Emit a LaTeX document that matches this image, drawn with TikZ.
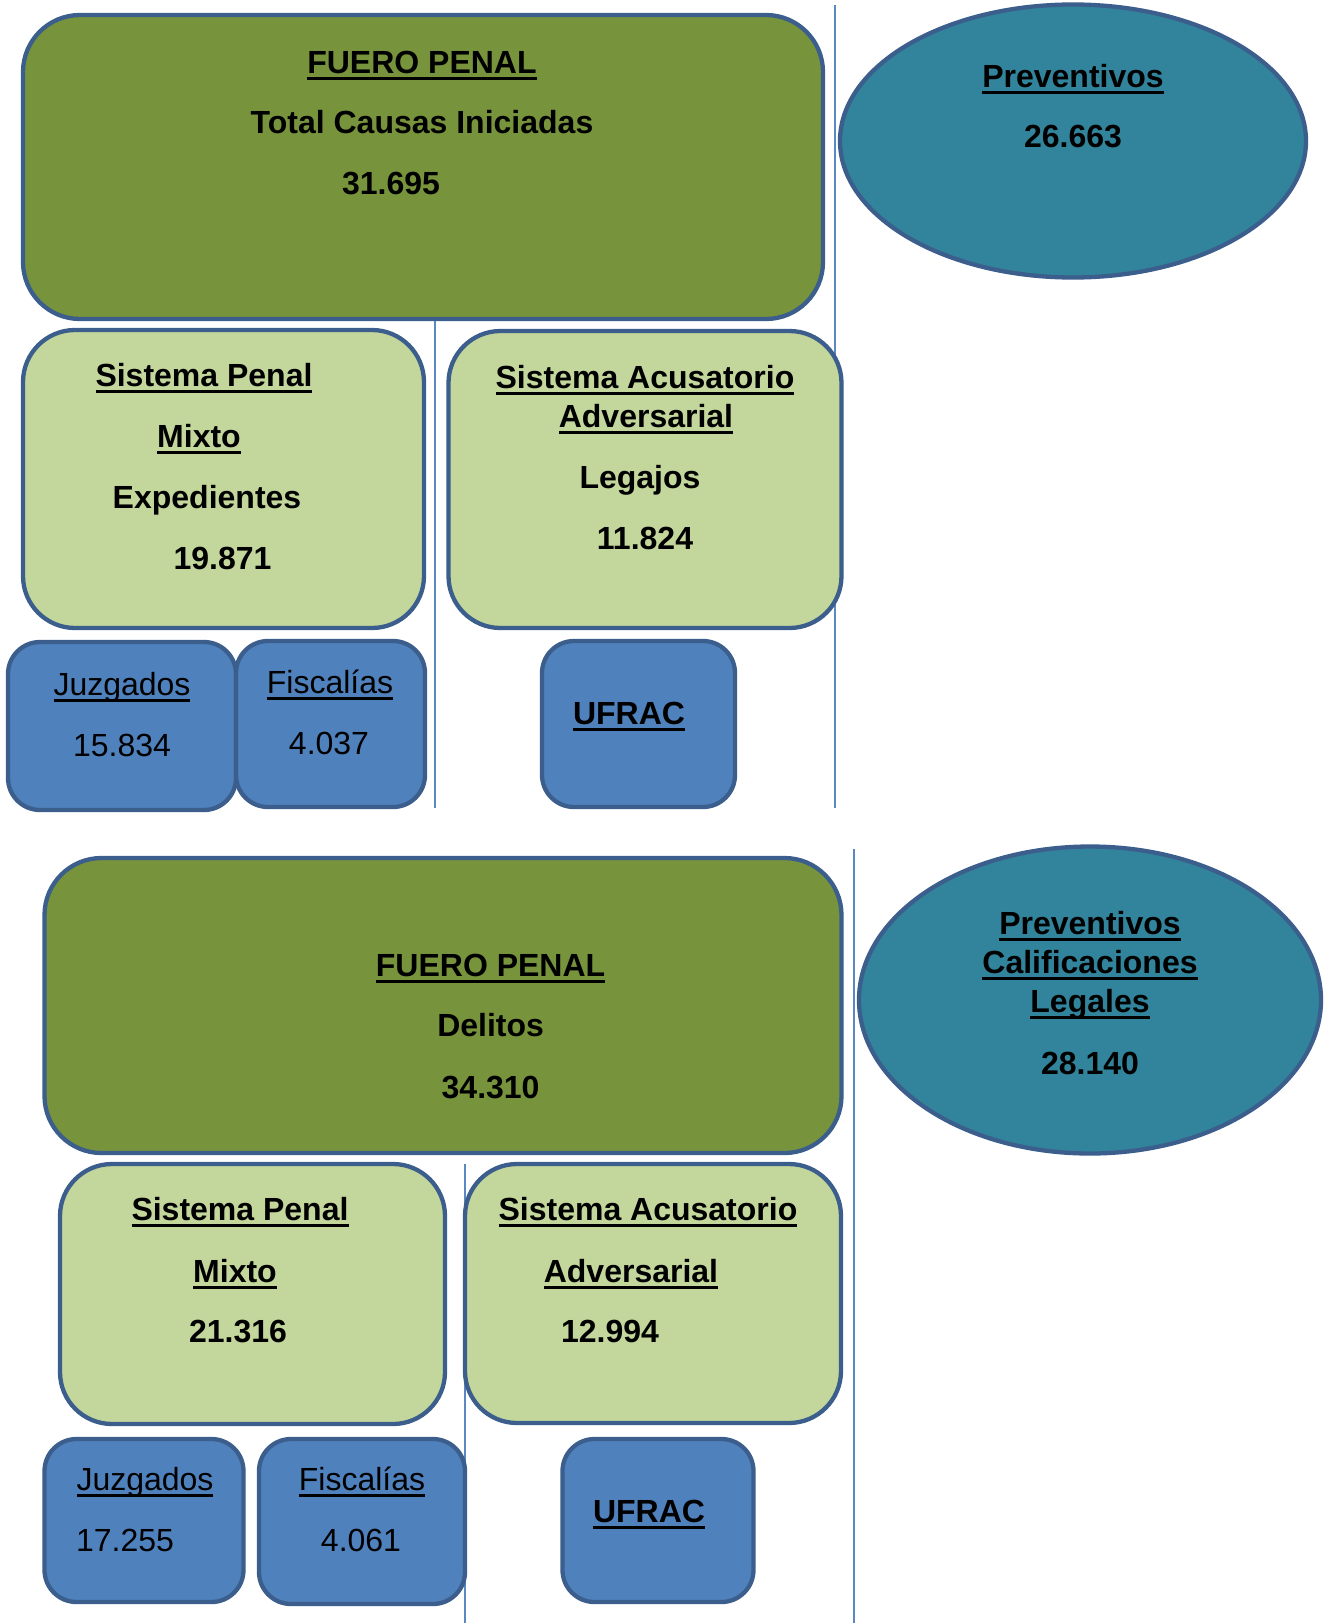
\documentclass[tikz,border=0pt]{standalone}
\usepackage{fontspec}
\setmainfont{Liberation Sans}
\usetikzlibrary{shapes.geometric}
\definecolor{cOlive}{HTML}{77933C}
\definecolor{cLight}{HTML}{C3D69B}
\definecolor{cBlue}{HTML}{4F81BD}
\definecolor{cTeal}{HTML}{31849B}
\definecolor{cEdge}{HTML}{3B5E8C}
\definecolor{cSep}{HTML}{5B87C2}
\newcommand{\ulin}[1]{\setbox0\hbox{#1}\rlap{\rule[-0.21em]{\wd0}{0.1em}}\box0}
\begin{document}
\begin{tikzpicture}[x=1pt,y=-1pt,
  base/.style={draw=cEdge, line width=4.3pt},
  bigbox/.style={base, fill=cOlive, rounded corners=57pt},
  midbox/.style={base, fill=cLight, rounded corners=52pt},
  smallbox/.style={base, fill=cBlue, rounded corners=32pt},
  oval/.style={base, fill=cTeal, ellipse},
  sep/.style={draw=cSep, line width=1.6pt},
  tb/.style={anchor=base, inner sep=0pt, font=\fontsize{32}{38}\selectfont\bfseries},
  tr/.style={anchor=base, inner sep=0pt, font=\fontsize{32}{38}\selectfont}]
\useasboundingbox (0,0) rectangle (1326,1623);

% separator lines
\coordinate (s1t) at (835,5);    \coordinate (s1b) at (835,808);
\coordinate (s2t) at (435,321);  \coordinate (s2b) at (435,808);
\coordinate (s3t) at (854,849);  \coordinate (s3b) at (854,1623);
\coordinate (s4t) at (465,1164); \coordinate (s4b) at (465,1623);
\draw[sep] (s1t) -- (s1b);
\draw[sep] (s2t) -- (s2b);
\draw[sep] (s3t) -- (s3b);
\draw[sep] (s4t) -- (s4b);

% ---------- upper diagram ----------
\node[bigbox, minimum width=800pt, minimum height=304pt] (fp1) at (423,167) {};
\node[tb] (fp1a) at (422,73) {\ulin{FUERO PENAL}};
\node[tb] (fp1b) at (422,133) {Total Causas Iniciadas};
\node[tb] (fp1c) at (391,194) {31.695};

\node[oval, minimum width=466pt, minimum height=273pt] (pv1) at (1073,141) {};
\node[tb] (pv1a) at (1073,87) {\ulin{Preventivos}};
\node[tb] (pv1b) at (1073,147) {26.663};

\node[midbox, minimum width=401pt, minimum height=298pt] (mx1) at (223.5,479) {};
\node[tb] (mx1a) at (204,386) {\ulin{Sistema Penal}};
\node[tb] (mx1b) at (199,447) {\ulin{Mixto}};
\node[tb] (mx1c) at (207,508) {Expedientes};
\node[tb] (mx1d) at (222.5,569) {19.871};

\node[midbox, minimum width=393pt, minimum height=297pt] (ac1) at (645,479.5) {};
\node[tb] (ac1a) at (645,388) {\ulin{Sistema Acusatorio}};
\node[tb] (ac1b) at (646,427) {\ulin{Adversarial}};
\node[tb] (ac1c) at (640,488) {Legajos};
\node[tb] (ac1d) at (645,549) {11.824};

\node[smallbox, minimum width=228pt, minimum height=168pt] (jz1) at (122,726) {};
\node[tr] (jz1a) at (122,695) {\ulin{Juzgados}};
\node[tr] (jz1b) at (122,756) {15.834};

\node[smallbox, minimum width=189pt, minimum height=166pt] (fs1) at (330.5,724) {};
\node[tr] (fs1a) at (330,693) {\ulin{Fiscalías}};
\node[tr] (fs1b) at (329,754) {4.037};

\node[smallbox, minimum width=193pt, minimum height=166pt] (uf1) at (638.5,724) {};
\node[tb] (uf1a) at (629,724) {\ulin{UFRAC}};

% ---------- lower diagram ----------
\node[bigbox, minimum width=797pt, minimum height=295pt] (fp2) at (443,1005.5) {};
\node[tb] (fp2a) at (490.6,976) {\ulin{FUERO PENAL}};
\node[tb] (fp2b) at (490.6,1036) {Delitos};
\node[tb] (fp2c) at (490.6,1098) {34.310};

\node[oval, minimum width=462pt, minimum height=307pt] (pv2) at (1090,1000) {};
\node[tb] (pv2a) at (1090,934) {\ulin{Preventivos}};
\node[tb] (pv2b) at (1090,973) {\ulin{Calificaciones}};
\node[tb] (pv2c) at (1090,1012) {\ulin{Legales}};
\node[tb] (pv2d) at (1090,1074) {28.140};

\node[midbox, minimum width=385pt, minimum height=260pt] (mx2) at (252.5,1294) {};
\node[tb] (mx2a) at (240,1220) {\ulin{Sistema Penal}};
\node[tb] (mx2b) at (235,1282) {\ulin{Mixto}};
\node[tb] (mx2c) at (238,1342) {21.316};

\node[midbox, minimum width=376pt, minimum height=259pt] (ac2) at (653,1293.5) {};
\node[tb] (ac2a) at (648,1220) {\ulin{Sistema Acusatorio}};
\node[tb] (ac2b) at (631,1282) {\ulin{Adversarial}};
\node[tb] (ac2c) at (610,1342) {12.994};

\node[smallbox, minimum width=199pt, minimum height=163pt] (jz2) at (144,1520.5) {};
\node[tr] (jz2a) at (145,1490) {\ulin{Juzgados}};
\node[tr] (jz2b) at (125,1551) {17.255};

\node[smallbox, minimum width=206pt, minimum height=165pt] (fs2) at (362,1521.5) {};
\node[tr] (fs2a) at (362,1490) {\ulin{Fiscalías}};
\node[tr] (fs2b) at (361,1551) {4.061};

\node[smallbox, minimum width=191pt, minimum height=163pt] (uf2) at (658,1520.5) {};
\node[tb] (uf2a) at (649,1522) {\ulin{UFRAC}};
\end{tikzpicture}
\end{document}
